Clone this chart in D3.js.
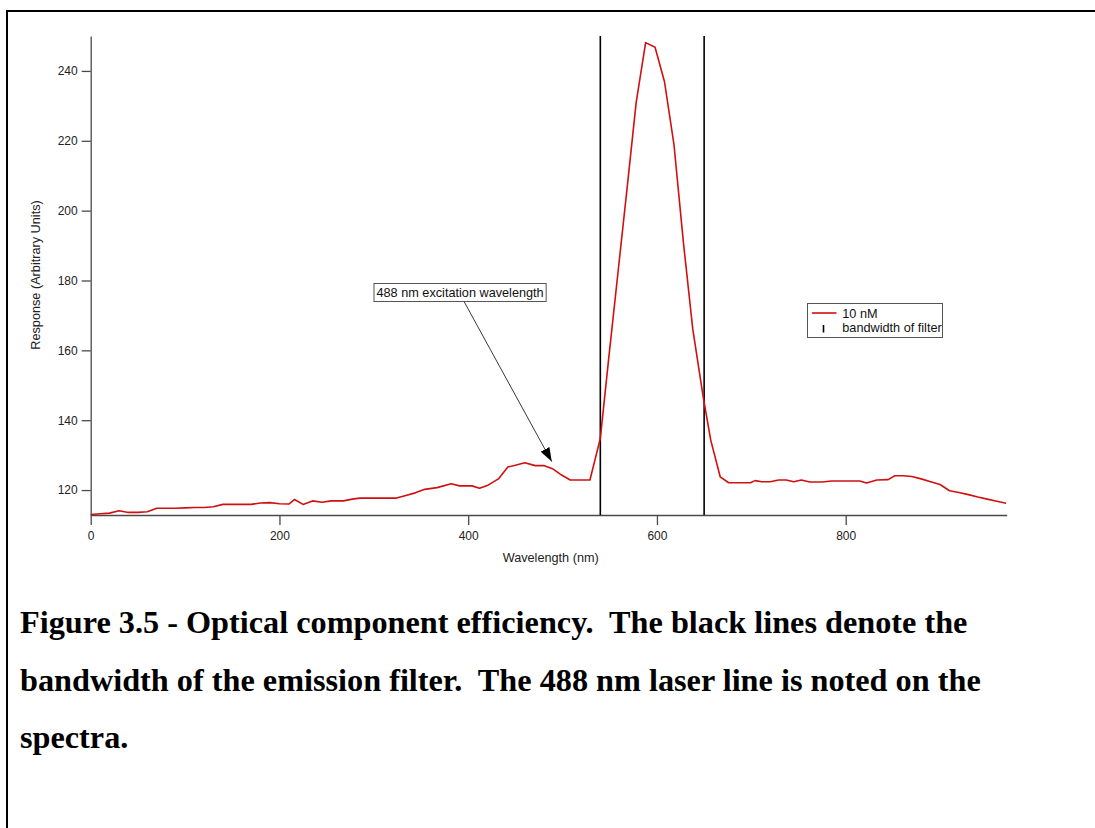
<!DOCTYPE html>
<html>
<head>
<meta charset="utf-8">
<script src="https://cdn.jsdelivr.net/npm/d3@7/dist/d3.min.js"></script>
<style>
  html, body { margin: 0; padding: 0; background: #fff; }
  svg { display: block; }
</style>
</head>
<body>
<svg id="fig" width="1095" height="828"></svg>
<script>
// Emission spectrum, 10 nM sample (wavelength in nm, response in arbitrary units)
const wavelength = [0, 10, 20, 30, 40, 50, 60, 70, 80, 90, 100, 110, 120, 130, 140, 150, 160, 170, 180, 190,
  200, 210, 216, 225, 235, 245, 255, 268, 277, 285, 300, 324, 333, 344, 354, 367, 382, 391, 404, 412,
  421, 432, 442, 450, 460, 471, 480, 490, 499, 508, 518, 529, 540, 549, 559, 569, 578, 588, 598, 608,
  618, 628, 638, 649, 657, 667, 676, 688, 699, 704, 711, 720, 729, 737, 745, 753, 762, 775, 785, 800,
  815, 822, 833, 845, 852, 861, 870, 880, 890, 900, 910, 920, 930, 940, 950, 960, 970];
const response = [113.0, 113.2, 113.4, 114.1, 113.6, 113.6, 113.8, 114.8, 114.8, 114.8, 114.9, 115.0, 115.0, 115.2, 115.9, 115.9, 115.9, 115.9, 116.3, 116.4,
  116.1, 116.0, 117.3, 115.9, 116.9, 116.5, 116.9, 116.9, 117.4, 117.7, 117.7, 117.7, 118.4, 119.2, 120.2, 120.7, 121.8, 121.2, 121.2, 120.5,
  121.4, 123.2, 126.6, 127.1, 127.8, 127.0, 127.0, 126.0, 124.3, 122.9, 122.9, 122.9, 134.8, 158.0, 183.0, 208.0, 231.0, 248.1, 246.8, 236.9,
  219.0, 191.0, 166.0, 146.7, 134.3, 123.8, 122.1, 122.1, 122.1, 122.7, 122.4, 122.4, 122.9, 122.9, 122.4, 122.9, 122.3, 122.3, 122.6, 122.6,
  122.6, 122.0, 122.9, 123.0, 124.1, 124.1, 123.9, 123.2, 122.4, 121.6, 119.8, 119.3, 118.7, 118.0, 117.4, 116.8, 116.2];

// Emission filter pass band edges (nm)
const filterEdges = [540, 650];

// Axis ticks
const xTicks = [0, 200, 400, 600, 800];
const yTicks = [120, 140, 160, 180, 200, 220, 240];

// Annotated excitation line
const laserWavelength = 488;
const laserLabel = "488 nm excitation wavelength";

const legendLabels = ["10 nM", "bandwidth of filter"];

const captionLines = [
  "Figure 3.5 - Optical component efficiency.  The black lines denote the",
  "bandwidth of the emission filter.  The 488 nm laser line is noted on the",
  "spectra."
];

const svg = d3.select("#fig");
const red = "#d01010";
const axisColor = "#4a4a4a";
const sans = "Arial, 'Liberation Sans', sans-serif";
const labelSize = "12.7px";

// Page frame
svg.append("rect")
  .attr("x", 7).attr("y", 11)
  .attr("width", 1100).attr("height", 840)
  .attr("fill", "none").attr("stroke", "#000").attr("stroke-width", 2);

const plot = { left: 90.7, right: 1006.7, top: 36, bottom: 515 };

const x = d3.scaleLinear().domain([0, 970.6]).range([plot.left, plot.right]);
const y = d3.scaleLinear().domain([112.86, 250]).range([plot.bottom, plot.top]);

// X axis
const xAxis = svg.append("g")
  .attr("transform", `translate(0,${plot.bottom})`)
  .call(d3.axisBottom(x).tickValues(xTicks).tickSize(10).tickPadding(6).tickSizeOuter(0));
// Y axis
const yAxis = svg.append("g")
  .attr("transform", `translate(${plot.left},0)`)
  .call(d3.axisLeft(y).tickValues(yTicks).tickSize(9).tickPadding(4).tickSizeOuter(0));

[xAxis, yAxis].forEach(g => {
  g.select(".domain").attr("stroke", axisColor).attr("stroke-width", 1.3);
  g.selectAll(".tick line").attr("stroke", axisColor).attr("stroke-width", 1.3);
  g.selectAll(".tick text").attr("fill", "#222").style("font-family", sans).style("font-size", "12px");
});

// Axis titles
svg.append("text")
  .attr("x", (plot.left + plot.right) / 2 + 2).attr("y", 562)
  .attr("text-anchor", "middle")
  .style("font-family", sans).style("font-size", labelSize).attr("fill", "#222")
  .text("Wavelength (nm)");
svg.append("text")
  .attr("transform", "translate(40,275) rotate(-90)")
  .attr("text-anchor", "middle")
  .style("font-family", sans).style("font-size", labelSize).attr("fill", "#222")
  .text("Response (Arbitrary Units)");

// Filter band edges
svg.selectAll("line.filter")
  .data(filterEdges)
  .join("line")
  .attr("class", "filter")
  .attr("x1", d => x(d)).attr("x2", d => x(d))
  .attr("y1", plot.top).attr("y2", plot.bottom)
  .attr("stroke", "#000").attr("stroke-width", 1.6);

// Spectrum trace
const points = wavelength.map((w, i) => [w, response[i]]);
svg.append("path")
  .datum(points)
  .attr("fill", "none")
  .attr("stroke", red)
  .attr("stroke-width", 1.6)
  .attr("stroke-linejoin", "round")
  .attr("d", d3.line().x(d => x(d[0])).y(d => y(d[1])));

// Annotation for the excitation wavelength
const defs = svg.append("defs");
defs.append("marker")
  .attr("id", "arrowhead")
  .attr("viewBox", "0 0 14 10")
  .attr("refX", 14).attr("refY", 5)
  .attr("markerWidth", 14).attr("markerHeight", 10)
  .attr("markerUnits", "userSpaceOnUse")
  .attr("orient", "auto")
  .append("path")
  .attr("d", "M0,0 L14,5 L0,10 Z")
  .attr("fill", "#000");

const tipX = x(laserWavelength) + 0.5;
const tipY = y(127.0) - 4;
const lbl = svg.append("g");
const lblText = lbl.append("text")
  .attr("x", 376.5).attr("y", 297)
  .style("font-family", sans).style("font-size", labelSize).attr("fill", "#111")
  .text(laserLabel);
const bb = lblText.node().getBBox();
lbl.insert("rect", "text")
  .attr("x", bb.x - 2.5).attr("y", 283.5)
  .attr("width", bb.width + 5).attr("height", 18)
  .attr("fill", "#fff").attr("stroke", "#555").attr("stroke-width", 1);

svg.append("line")
  .attr("x1", 464.3).attr("y1", 302)
  .attr("x2", tipX).attr("y2", tipY)
  .attr("stroke", "#222").attr("stroke-width", 0.9)
  .attr("marker-end", "url(#arrowhead)");

// Legend
const leg = svg.append("g");
leg.append("rect")
  .attr("x", 807.5).attr("y", 303.5)
  .attr("width", 135).attr("height", 34)
  .attr("fill", "#fff").attr("stroke", "#555").attr("stroke-width", 1);
leg.append("line")
  .attr("x1", 812).attr("x2", 836.5).attr("y1", 313).attr("y2", 313)
  .attr("stroke", red).attr("stroke-width", 1.6);
leg.append("line")
  .attr("x1", 823.5).attr("x2", 823.5).attr("y1", 325).attr("y2", 332.5)
  .attr("stroke", "#000").attr("stroke-width", 1.6);
leg.selectAll("text")
  .data(legendLabels)
  .join("text")
  .attr("x", 842.3)
  .attr("y", (d, i) => 317.5 + i * 14.5)
  .style("font-family", sans).style("font-size", labelSize).attr("fill", "#111")
  .text(d => d);

// Caption: size the serif text so the first line spans the text column
const caption = svg.selectAll("text.caption")
  .data(captionLines)
  .join("text")
  .attr("class", "caption")
  .attr("x", 20)
  .attr("y", (d, i) => 633 + i * 57.5)
  .style("font-family", "'Times New Roman', 'Liberation Serif', serif")
  .style("font-weight", "bold")
  .style("font-size", "26px")
  .style("white-space", "pre")
  .attr("fill", "#000")
  .text(d => d);
const firstWidth = caption.nodes()[0].getComputedTextLength();
const captionSize = Math.min(34, 26 * 948 / firstWidth);
caption.style("font-size", captionSize + "px");
</script>
</body>
</html>
